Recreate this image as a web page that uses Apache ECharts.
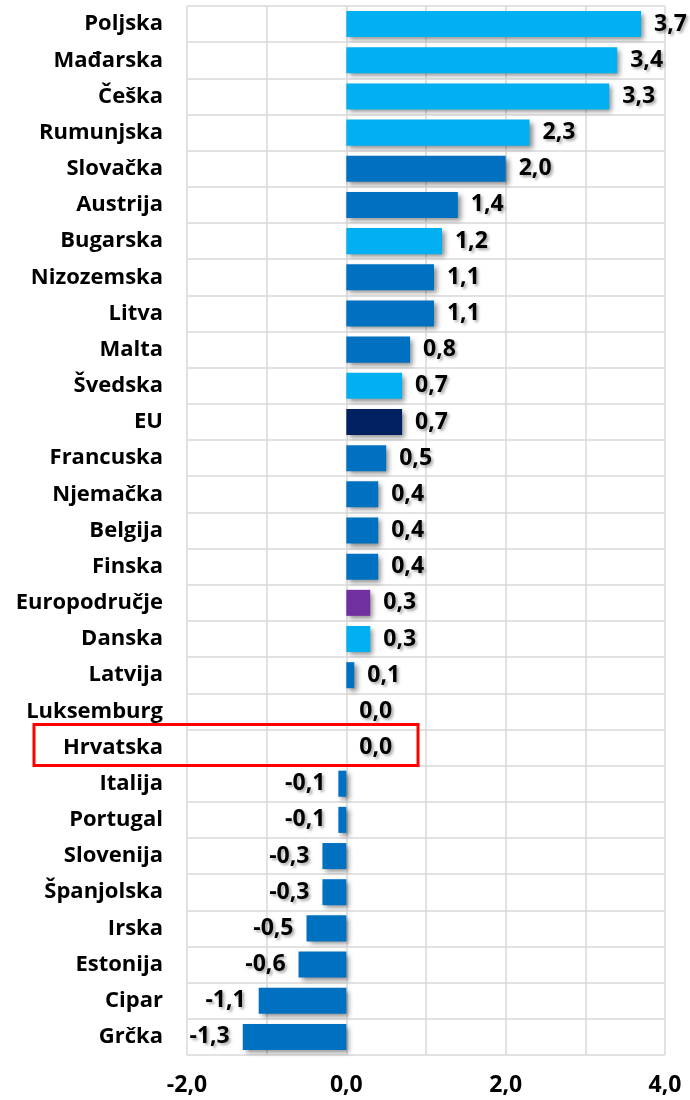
<!DOCTYPE html>
<html>
<head>
<meta charset="utf-8">
<script src="https://cdn.jsdelivr.net/npm/echarts@6/dist/echarts.min.js"></script>
<style>
  html, body { margin: 0; padding: 0; background: #fff; }
  #main { width: 690px; height: 1100px; }
</style>
</head>
<body>
<div id="main"></div>
<script>
var countries = ['Poljska', 'Mađarska', 'Češka', 'Rumunjska', 'Slovačka', 'Austrija', 'Bugarska',
    'Nizozemska', 'Litva', 'Malta', 'Švedska', 'EU', 'Francuska', 'Njemačka', 'Belgija', 'Finska',
    'Europodručje', 'Danska', 'Latvija', 'Luksemburg', 'Hrvatska', 'Italija', 'Portugal',
    'Slovenija', 'Španjolska', 'Irska', 'Estonija', 'Cipar', 'Grčka'];
var values = [3.7, 3.4, 3.3, 2.3, 2.0, 1.4, 1.2, 1.1, 1.1, 0.8, 0.7, 0.7, 0.5, 0.4, 0.4, 0.4,
    0.3, 0.3, 0.1, 0.0, 0.0, -0.1, -0.1, -0.3, -0.3, -0.5, -0.6, -1.1, -1.3];
// group: n = izvan europodručja, e = europodručje, eu = EU, ea = europodručje prosjek
var groups = ['n', 'n', 'n', 'n', 'e', 'e', 'n', 'e', 'e', 'e', 'n', 'eu', 'e', 'e', 'e', 'e',
    'ea', 'n', 'e', 'e', 'e', 'e', 'e', 'e', 'e', 'e', 'e', 'e', 'e'];
var xTicks = [-2, 0, 2, 4];
var highlighted = 'Hrvatska';

var groupColors = { n: '#00B0F0', e: '#0070C0', eu: '#002060', ea: '#7030A0' };
var fontFam = '"Open Sans", "Noto Sans", sans-serif';

function fmt(v) {
    return v.toFixed(1).replace('.', ',');
}

var dom = document.getElementById('main');
var myChart = echarts.init(dom);

var seriesData = values.map(function (v, i) {
    return {
        value: v,
        itemStyle: { color: groupColors[groups[i]] },
        label: { position: v < 0 ? 'left' : 'right' }
    };
});

var option = {
    animation: false,
    grid: { left: 187, right: 25, top: 6, bottom: 45, containLabel: false },
    xAxis: {
        type: 'value',
        min: -2,
        max: 4,
        interval: 1,
        axisLine: { show: false },
        axisTick: { show: false },
        splitLine: { show: true, lineStyle: { color: '#d9d9d9', width: 1.5 } },
        axisLabel: {
            margin: 19,
            color: '#000',
            fontFamily: fontFam,
            fontWeight: 'bold',
            fontSize: 23,
            formatter: function (v) {
                return xTicks.indexOf(v) >= 0 ? fmt(v) : '';
            }
        }
    },
    yAxis: {
        type: 'category',
        inverse: true,
        data: countries,
        axisLine: { show: false },
        axisTick: { show: false },
        splitLine: { show: true, lineStyle: { color: '#d9d9d9', width: 1.5 } },
        axisLabel: {
            margin: 24,
            color: '#000',
            fontFamily: fontFam,
            fontWeight: 'bold',
            fontSize: 22
        }
    },
    series: [{
        type: 'bar',
        data: seriesData,
        barWidth: '72%',
        itemStyle: {
            shadowColor: 'rgba(0,0,0,0.45)',
            shadowBlur: 5,
            shadowOffsetX: 3,
            shadowOffsetY: 3
        },
        label: {
            show: true,
            distance: 13,
            color: '#000',
            fontFamily: fontFam,
            fontWeight: 'bold',
            fontSize: 23,
            textShadowColor: 'rgba(0,0,0,0.35)',
            textShadowBlur: 3,
            textShadowOffsetX: 2,
            textShadowOffsetY: 2,
            formatter: function (p) { return fmt(p.value); }
        }
    }]
};

myChart.setOption(option, true);

// crveni okvir oko Hrvatske
var cy = myChart.convertToPixel({ yAxisIndex: 0 }, highlighted);
var xr = myChart.convertToPixel({ xAxisIndex: 0 }, 0.9);
myChart.setOption({
    graphic: [{
        type: 'rect',
        shape: { x: 34, y: cy - 23, width: xr - 34, height: 41 },
        style: { fill: 'none', stroke: '#FF0000', lineWidth: 3 },
        z: 100
    }]
});
</script>
</body>
</html>
